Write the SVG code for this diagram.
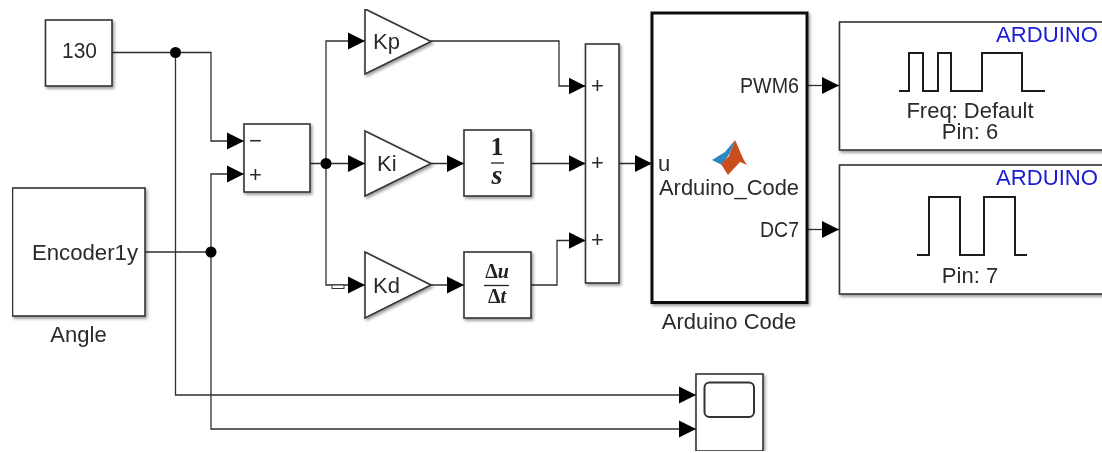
<svg xmlns="http://www.w3.org/2000/svg" width="1102" height="453" viewBox="0 0 1102 453">
<style>
.b{fill:#fff;stroke:#333;stroke-width:1.6;filter:url(#sh)}
.w{fill:none;stroke:#2e2e2e;stroke-width:1.3}
.t{font-family:"Liberation Sans",Arial,sans-serif;font-size:22px;fill:#2a2a2a}
.m{text-anchor:middle}
.e{text-anchor:end}
.blue{fill:#1c1cd6}
.sig{fill:none;stroke:#1a1a1a;stroke-width:2}
.frac{font-family:"Liberation Serif","Times New Roman",serif;font-weight:bold;fill:#222;text-anchor:middle}
</style>
<defs>
<filter id="sh" x="-15%" y="-15%" width="130%" height="130%"><feDropShadow dx="1.5" dy="2" stdDeviation="1.5" flood-color="#000" flood-opacity=".4"/></filter>
<filter id="soft" x="0" y="0" width="100%" height="100%"><feGaussianBlur stdDeviation="0.35"/></filter>
<marker id="a" markerUnits="userSpaceOnUse" markerWidth="18" markerHeight="19" refX="17" refY="9" orient="auto"><path d="M0 .5L17 9L0 17.500z" fill="#000"/></marker>
</defs>
<rect width="1102" height="453" fill="#fff"/>
<g filter="url(#soft)">
<g id="connectors">
<path class="w" d="M112 52.500H211V141H244" marker-end="url(#a)"/>
<path class="w" d="M175.500 52.500V395H696" marker-end="url(#a)"/>
<path class="w" d="M145 252H211"/>
<path class="w" d="M211 252V174H244" marker-end="url(#a)"/>
<path class="w" d="M211 252V429H696" marker-end="url(#a)"/>
<path class="w" d="M310 163.500H365" marker-end="url(#a)"/>
<path class="w" d="M326 163V41H365" marker-end="url(#a)"/>
<path class="w" d="M326 163V285H365" marker-end="url(#a)"/>
<rect x="332" y="285" width="12" height="3.500" fill="#fff" stroke="#333" stroke-width="1"/>
<path class="w" d="M431 41H559V86H585.500" marker-end="url(#a)"/>
<path class="w" d="M431 163.500H464" marker-end="url(#a)"/>
<path class="w" d="M431 285H464" marker-end="url(#a)"/>
<path class="w" d="M531 163.500H585.500" marker-end="url(#a)"/>
<path class="w" d="M531 285H557V240.500H585.500" marker-end="url(#a)"/>
<path class="w" d="M619 163.500H652" marker-end="url(#a)"/>
<path class="w" d="M807 85.500H839" marker-end="url(#a)"/>
<path class="w" d="M807 229.500H839" marker-end="url(#a)"/>
<circle cx="175.500" cy="52.500" r="5.500" fill="#000"/>
<circle cx="211" cy="252" r="5.500" fill="#000"/>
<circle cx="326" cy="163.500" r="5.500" fill="#000"/>
</g>
<g id="const"><rect class="b" x="45.500" y="20" width="66.500" height="66"/><text class="t" x="62" y="58" textLength="35" lengthAdjust="spacingAndGlyphs">130</text></g>
<g id="encoder"><rect class="b" x="12.500" y="188" width="132.500" height="128"/><text class="t" x="32" y="260" textLength="106" lengthAdjust="spacingAndGlyphs">Encoder1y</text><text class="t m" x="78.500" y="342">Angle</text></g>
<g id="sum1"><rect class="b" x="244" y="124" width="66" height="68"/><text class="t" x="249" y="148">−</text><text class="t" x="249" y="182">+</text></g>
<g id="kp"><path class="b" d="M365 9L431 41.500L365 74z"/><text class="t" x="373" y="49">Kp</text></g>
<g id="ki"><path class="b" d="M365 131L431 163.500L365 196z"/><text class="t" x="377" y="171">Ki</text></g>
<g id="kd"><path class="b" d="M365 252L431 285L365 318z"/><text class="t" x="373" y="293">Kd</text></g>
<g id="integrator"><rect class="b" x="464" y="130" width="67" height="66"/><text class="frac" x="497" y="155" font-size="26">1</text><path d="M491 163H504" stroke="#222" stroke-width="1.300"/><text class="frac" x="497" y="184" font-size="28" font-style="italic">s</text></g>
<g id="derivative"><rect class="b" x="464" y="252" width="67" height="66"/><text class="frac" x="497" y="278" font-size="20">Δ<tspan font-style="italic">u</tspan></text><path d="M484 285.500H509" stroke="#222" stroke-width="1.300"/><text class="frac" x="497" y="303" font-size="20">Δ<tspan font-style="italic">t</tspan></text></g>
<g id="sum2"><rect class="b" x="585.500" y="44" width="33.500" height="239"/><text class="t" x="591" y="93">+</text><text class="t" x="591" y="170">+</text><text class="t" x="591" y="247">+</text></g>
<g id="arduino-code"><rect class="b" x="652" y="13" width="155" height="289.500" style="stroke:#111;stroke-width:3"/>
<path d="M712 160L725 152L735 140L730 153L722 165z" fill="#2f86c1"/>
<path d="M735 140C739 148 742 158 747 165L740 162L728 175L721 164L729 156z" fill="#c8501e"/>
<text class="t" x="658" y="171">u</text><text class="t" x="659" y="195" textLength="140" lengthAdjust="spacingAndGlyphs">Arduino_Code</text><text class="t" x="740" y="93" textLength="59" lengthAdjust="spacingAndGlyphs">PWM6</text><text class="t" x="760" y="237" textLength="39" lengthAdjust="spacingAndGlyphs">DC7</text><text class="t m" x="729" y="329">Arduino Code</text></g>
<g id="pwm"><rect class="b" x="839.500" y="22" width="270" height="128"/><text class="t blue" x="996" y="42" textLength="102" lengthAdjust="spacingAndGlyphs">ARDUINO</text><path class="sig" d="M899 91H909V53H923V91H938V53H951V91H982V53H1022V91H1045"/><text class="t m" x="970" y="118">Freq: Default</text><text class="t m" x="970" y="139">Pin: 6</text></g>
<g id="digital"><rect class="b" x="839.500" y="165" width="270" height="129"/><text class="t blue" x="996" y="185" textLength="102" lengthAdjust="spacingAndGlyphs">ARDUINO</text><path class="sig" d="M917 255H929V197H960V255H984V197H1015V255H1027"/><text class="t m" x="970" y="283">Pin: 7</text></g>
<g id="scope"><rect class="b" x="696" y="374" width="67" height="77"/><rect x="704.500" y="382.500" width="49.500" height="34.500" rx="5" fill="#fff" stroke="#333" stroke-width="2"/></g>
</g>
</svg>
